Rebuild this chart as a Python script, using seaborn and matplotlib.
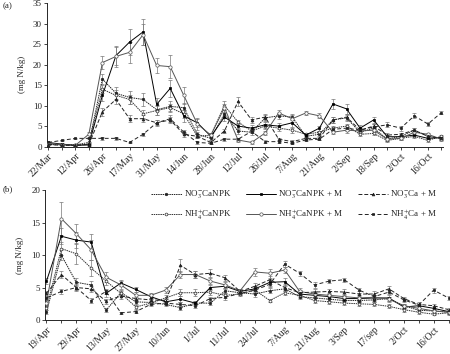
import numpy as np
import matplotlib
matplotlib.use('Agg')
import matplotlib.pyplot as plt
import seaborn as sns

# ----- panel (a) -----
a_labels = ['22/Mar', '12/Apr', '26/Apr', '17/May', '31/May', '14/Jun', '28/Jun', '12/Jul',
            '26/Jul', '7/Aug', '21/Aug', '2/Sep', '18/Sep', '2/Oct', '16/Oct']
a_no3_npk = [0.5, 0.4, 0.3, 0.6, 16.5, 13.0, 12.0, 11.5, 9.0, 9.8, 9.5, 3.0, 2.0, 8.0, 3.8,
             3.5, 7.0, 7.5, 7.2, 2.5, 3.0, 6.5, 7.0, 3.5, 4.5, 1.8, 2.5, 4.0, 2.5, 2.0]
a_nh4_npk = [0.5, 0.5, 0.4, 1.0, 14.0, 12.5, 11.5, 8.0, 8.8, 9.5, 8.0, 2.5, 2.8, 10.0, 6.0,
             3.8, 5.0, 4.5, 4.0, 3.0, 3.5, 4.5, 5.0, 3.0, 3.2, 1.5, 2.0, 2.5, 1.5, 2.5]
a_no3_npk_m = [1.0, 0.6, 0.3, 0.4, 12.5, 22.2, 25.5, 28.0, 10.3, 14.2, 7.5, 5.8, 2.5, 7.2, 5.0,
               4.5, 5.3, 5.0, 5.8, 2.8, 4.5, 10.4, 9.2, 4.5, 6.5, 2.4, 2.4, 2.8, 2.0, 2.2]
a_nh4_npk_m = [0.8, 0.5, 0.3, 3.0, 20.5, 22.0, 23.0, 27.3, 19.8, 19.5, 12.5, 5.5, 2.8, 9.5, 1.6,
               1.0, 3.3, 8.2, 6.8, 8.2, 7.5, 3.5, 4.0, 3.8, 4.0, 1.8, 2.0, 3.5, 3.0, 1.8]
a_no3_ca_m = [0.5, 0.3, 0.3, 0.5, 8.5, 11.5, 6.8, 6.8, 5.8, 6.5, 3.0, 2.5, 1.0, 3.8, 11.0,
              6.5, 7.2, 1.8, 1.2, 2.0, 2.0, 6.5, 7.2, 4.0, 5.0, 2.8, 3.0, 4.0, 2.5, 2.0]
a_nh4_ca_m = [1.0, 1.5, 2.0, 2.0, 2.0, 2.0, 1.0, 3.0, 5.8, 6.8, 3.5, 1.0, 0.8, 1.8, 1.8,
              3.7, 1.2, 1.2, 0.8, 1.6, 1.8, 4.2, 4.5, 4.0, 4.8, 5.3, 4.5, 7.5, 5.5, 8.3]

a_no3_npk_err = [0.2, 0.2, 0.2, 0.2, 1.2, 1.5, 1.5, 1.5, 1.2, 1.2, 1.2, 0.6, 0.5, 1.0, 0.8,
                 0.6, 0.8, 0.8, 0.8, 0.4, 0.4, 0.8, 0.8, 0.5, 0.6, 0.4, 0.4, 0.5, 0.4, 0.4]
a_nh4_npk_err = [0.2, 0.2, 0.2, 0.2, 1.0, 1.2, 1.2, 1.0, 1.0, 1.0, 1.0, 0.5, 0.5, 1.0, 0.6,
                 0.5, 0.6, 0.6, 0.6, 0.4, 0.4, 0.6, 0.6, 0.4, 0.5, 0.3, 0.4, 0.4, 0.3, 0.4]
a_no3_npk_m_err = [0.3, 0.2, 0.2, 0.2, 1.5, 2.2, 3.2, 3.2, 1.5, 2.0, 1.5, 1.0, 0.8, 1.0, 0.8,
                   0.8, 0.8, 0.8, 1.0, 0.5, 0.6, 1.2, 1.3, 0.7, 0.8, 0.5, 0.5, 0.5, 0.4, 0.4]
a_nh4_npk_m_err = [0.3, 0.2, 0.2, 0.6, 1.5, 2.5, 2.5, 2.5, 1.8, 2.8, 2.0, 1.5, 0.6, 1.0, 0.4,
                   0.3, 0.5, 0.8, 0.8, 0.6, 0.6, 0.5, 0.6, 0.5, 0.5, 0.4, 0.4, 0.5, 0.4, 0.4]
a_no3_ca_m_err = [0.2, 0.2, 0.2, 0.2, 1.0, 1.0, 0.8, 0.8, 0.8, 0.8, 0.6, 0.5, 0.3, 0.6, 1.2,
                  0.8, 0.8, 0.4, 0.3, 0.4, 0.4, 0.8, 0.8, 0.5, 0.6, 0.4, 0.4, 0.5, 0.4, 0.4]
a_nh4_ca_m_err = [0.2, 0.2, 0.2, 0.2, 0.3, 0.3, 0.2, 0.4, 0.6, 0.8, 0.5, 0.3, 0.2, 0.4, 0.4,
                  0.5, 0.3, 0.3, 0.2, 0.3, 0.3, 0.5, 0.6, 0.5, 0.6, 0.6, 0.6, 0.6, 0.6, 0.4]

# ----- panel (b) -----
b_labels = ['19/Apr', '29/Apr', '13/May', '27/May', '10/Jun', '1/Jul', '11/Jul', '24/Jul',
            '7/Aug', '21/Aug', '3/Sep', '17/sep', '2/Oct', '16/Oct']
b_no3_npk = [1.2, 10.0, 5.8, 5.4, 1.5, 4.2, 2.8, 2.7, 2.4, 1.9, 2.6, 2.6, 4.5, 4.2,
             4.0, 4.5, 4.8, 3.6, 3.4, 3.2, 3.0, 3.0, 3.1, 3.3, 2.2, 1.5, 1.4, 1.2]
b_nh4_npk = [1.8, 11.0, 10.2, 8.0, 6.0, 4.1, 2.0, 2.6, 3.4, 4.2, 4.2, 4.3, 3.8, 4.0,
             4.6, 3.0, 4.2, 3.8, 3.0, 2.8, 2.6, 2.5, 2.4, 2.1, 1.6, 1.2, 0.9, 1.1]
b_no3_npk_m = [6.0, 12.9, 12.3, 12.0, 4.1, 5.7, 4.7, 3.6, 2.8, 3.2, 2.6, 5.0, 5.2, 4.4,
               4.8, 5.8, 5.9, 4.0, 3.8, 3.6, 3.3, 3.3, 3.4, 3.4, 2.0, 2.2, 1.8, 1.3]
b_nh4_npk_m = [2.6, 15.6, 13.3, 10.8, 6.6, 5.4, 3.8, 3.8, 4.6, 7.0, 7.0, 6.0, 5.4, 4.5,
               7.4, 7.2, 7.7, 4.4, 4.0, 3.8, 3.6, 3.4, 3.5, 3.2, 2.2, 1.8, 1.4, 1.2]
b_no3_ca_m = [4.1, 7.0, 5.0, 4.8, 2.9, 3.7, 3.3, 3.1, 3.0, 8.4, 7.0, 7.2, 6.5, 4.4,
              5.2, 6.2, 5.0, 4.2, 4.3, 4.4, 4.3, 4.0, 4.0, 4.8, 3.3, 2.4, 2.2, 1.6]
b_nh4_ca_m = [3.4, 4.4, 5.0, 3.0, 4.4, 1.1, 1.3, 2.4, 2.6, 2.4, 2.2, 3.3, 3.5, 4.1,
              4.6, 5.5, 8.6, 7.2, 5.4, 6.0, 6.2, 4.6, 3.6, 4.3, 3.1, 2.3, 4.6, 3.4]

b_no3_npk_err = [0.3, 0.8, 0.6, 0.6, 0.3, 0.4, 0.3, 0.3, 0.3, 0.3, 0.3, 0.3, 0.4, 0.3,
                 0.4, 0.4, 0.4, 0.4, 0.3, 0.3, 0.3, 0.3, 0.3, 0.3, 0.3, 0.2, 0.2, 0.2]
b_nh4_npk_err = [0.3, 1.0, 1.5, 1.2, 0.6, 0.4, 0.3, 0.3, 0.4, 0.5, 0.5, 0.5, 0.4, 0.3,
                 0.4, 0.3, 0.4, 0.4, 0.4, 0.4, 0.3, 0.3, 0.3, 0.3, 0.3, 0.2, 0.2, 0.3]
b_no3_npk_m_err = [0.5, 1.2, 1.2, 1.2, 0.5, 0.4, 0.4, 0.4, 0.4, 0.5, 0.4, 0.4, 0.4, 0.3,
                   0.5, 0.5, 0.5, 0.4, 0.4, 0.4, 0.4, 0.4, 0.4, 0.4, 0.3, 0.3, 0.3, 0.3]
b_nh4_npk_m_err = [0.5, 2.5, 1.5, 1.5, 0.8, 0.6, 0.5, 0.4, 0.5, 0.6, 0.5, 0.5, 0.4, 0.3,
                   0.6, 0.7, 0.5, 0.5, 0.5, 0.4, 0.4, 0.4, 0.4, 0.4, 0.3, 0.3, 0.3, 0.3]
b_no3_ca_m_err = [0.4, 0.6, 0.5, 0.5, 0.4, 0.4, 0.3, 0.3, 0.3, 1.0, 0.6, 0.6, 0.5, 0.4,
                  0.5, 0.6, 0.5, 0.4, 0.4, 0.4, 0.4, 0.4, 0.4, 0.5, 0.3, 0.3, 0.3, 0.3]
b_nh4_ca_m_err = [0.3, 0.4, 0.4, 0.4, 0.4, 0.2, 0.2, 0.3, 0.3, 0.3, 0.3, 0.3, 0.4, 0.3,
                  0.4, 0.4, 0.5, 0.4, 0.4, 0.3, 0.3, 0.4, 0.3, 0.3, 0.3, 0.2, 0.4, 0.3]

names = [r'NO$_3^{-}$CaNPK', r'NH$_4^{+}$CaNPK', r'NO$_3^{-}$CaNPK + M',
         r'NH$_4^{+}$CaNPK + M', r'NO$_3^{-}$Ca + M', r'NH$_4^{+}$Ca + M']

# line styles for the six treatments
styles = [
    dict(color='#222222', linestyle=(0, (1.5, 0.8)), marker='o', markersize=1.8,
         markerfacecolor='#222222'),
    dict(color='#333333', linestyle=(0, (1.5, 0.8)), marker='o', markersize=2.0,
         markerfacecolor='white'),
    dict(color='black', linestyle='-', marker='s', markersize=2.0, markerfacecolor='black'),
    dict(color='#555555', linestyle='-', marker='o', markersize=2.4, markerfacecolor='white'),
    dict(color='#222222', linestyle=(0, (4, 2)), marker='^', markersize=2.0,
         markerfacecolor='#222222'),
    dict(color='#222222', linestyle=(0, (4, 2.5)), marker='s', markersize=1.5,
         markerfacecolor='#222222'),
]

sns.set_style('ticks')
plt.rcParams['font.family'] = ['Liberation Serif', 'DejaVu Serif']
plt.rcParams['mathtext.fontset'] = 'stix'

fig = plt.figure(figsize=(4.5, 3.54), dpi=100)
ax_a = fig.add_axes([0.104, 0.586, 0.88, 0.405])
ax_b = fig.add_axes([0.100, 0.096, 0.90, 0.367])


def draw_panel(ax, labels, series, errors, ymax):
    x = np.arange(len(series[0]))
    for vals, err, name, st in zip(series, errors, names, styles):
        ax.errorbar(x, vals, yerr=err, fmt='none', ecolor='#777777', elinewidth=0.5,
                    capsize=1.6, capthick=0.5, zorder=2)
        sns.lineplot(x=x, y=vals, ax=ax, label=name, legend=False, linewidth=0.7,
                     markeredgewidth=0.5, markeredgecolor=st['color'], zorder=3, **st)
    ax.set_xlim(-0.1, len(x) - 0.9)
    ax.set_ylim(0, ymax)
    ax.set_yticks(np.arange(0, ymax + 1, 5))
    ax.set_xticks(x)
    ticklabels = [labels[i // 2] if i % 2 == 0 else '' for i in x]
    ax.set_xticklabels(ticklabels, rotation=45, ha='right', rotation_mode='anchor')
    ax.tick_params(axis='x', labelsize=7, length=2, width=0.6, pad=1.5)
    ax.tick_params(axis='y', labelsize=6.5, length=2, width=0.6, pad=1.5)
    ax.set_ylabel('(mg N/kg)', fontsize=6.5, labelpad=5)
    for s in ['left', 'bottom']:
        ax.spines[s].set_linewidth(0.7)
    sns.despine(ax=ax)


draw_panel(ax_a, a_labels,
           [a_no3_npk, a_nh4_npk, a_no3_npk_m, a_nh4_npk_m, a_no3_ca_m, a_nh4_ca_m],
           [a_no3_npk_err, a_nh4_npk_err, a_no3_npk_m_err, a_nh4_npk_m_err,
            a_no3_ca_m_err, a_nh4_ca_m_err], 35)
draw_panel(ax_b, b_labels,
           [b_no3_npk, b_nh4_npk, b_no3_npk_m, b_nh4_npk_m, b_no3_ca_m, b_nh4_ca_m],
           [b_no3_npk_err, b_nh4_npk_err, b_no3_npk_m_err, b_nh4_npk_m_err,
            b_no3_ca_m_err, b_nh4_ca_m_err], 20)

fig.text(0.005, 0.995, '(a)', fontsize=6.5, va='top')
fig.text(0.005, 0.478, '(b)', fontsize=6.5, va='top')

handles, labs = ax_b.get_legend_handles_labels()
fig.legend(handles, labs, loc='upper right', bbox_to_anchor=(0.99, 0.49), ncol=3,
           fontsize=6.5, frameon=False, handlelength=3.4, handletextpad=0.2,
           columnspacing=1.6, labelspacing=0.7)

fig.savefig('out.png', dpi=100)
